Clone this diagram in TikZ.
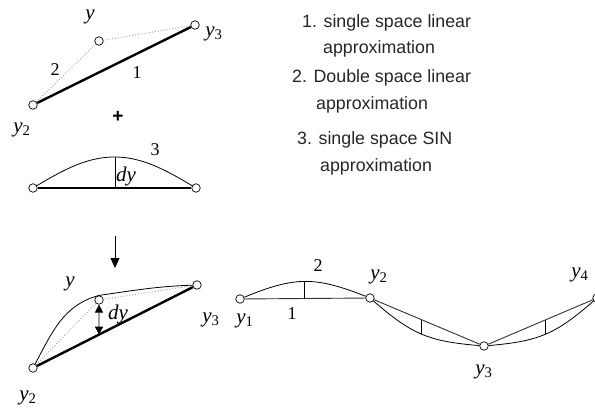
\documentclass[tikz,border=0pt]{standalone}
\usepackage{fontspec}
\setmainfont{Liberation Serif}
\newfontfamily\labelsans{Liberation Sans}
\usetikzlibrary{arrows.meta,calc}
\newcommand\yy[1]{\textit{y}\textsubscript{#1}}
\tikzset{mytip/.tip={Stealth[length=10pt,width=9pt,inset=0pt]},
         smalltip/.tip={Stealth[length=8pt,width=8pt,inset=0pt]}}
\begin{document}
\begin{tikzpicture}[x=1pt,y=1pt,
  pt/.style={circle,draw,fill=white,minimum size=8.5pt,inner sep=0pt,line width=0.7pt},
  heavy/.style={line width=2.4pt},
  thinline/.style={line width=0.8pt},
  chord/.style={line width=0.9pt,black!80},
  dots/.style={black!40,dotted,line width=0.9pt},
  lbl/.style={font=\fontsize{21}{21}\selectfont,inner sep=0pt},
  num/.style={font=\fontsize{18}{18}\selectfont,inner sep=0pt},
  txt/.style={font=\labelsans\fontsize{17.8}{17.8}\selectfont,anchor=base west,inner sep=0pt,text=black!85}]
\useasboundingbox (0,-409) rectangle (595,0);

% ---- top figure
\node[pt] (a2) at (33,-105) {};
\node[pt] (a) at (99,-41) {};
\node[pt] (a3) at (195,-25) {};
\draw[dots] (a2) -- (a) -- (a3);
\draw[heavy] (a2) -- (a3);
\node[lbl] (la) at (90,-17) {\textit{y}};
\node[lbl] (la3) at (214,-34) {\yy{3}};
\node[lbl] (la2) at (22,-130) {\yy{2}};
\node[num] (l2a) at (55,-70) {2};
\node[num] (l1a) at (137,-73) {1};
\node[font=\labelsans\bfseries\fontsize{19}{19}\selectfont,inner sep=0pt] (plus) at (118,-117) {+};

% ---- second figure
\node[pt] (b1) at (33,-188) {};
\node[pt] (b2) at (196,-188) {};
\draw[heavy] (b1) -- (b2);
\draw[thinline] plot[domain=3:177,samples=60] ({33+0.9056*\x},{-188+31*sin(\x)});
\coordinate (bp) at (115,-157);
\draw[thinline] (bp) -- (bp |- b1);
\node[num] (l3b) at (155,-150) {3};
\node[lbl] (ldyb) at (126,-176) {\textit{dy}};

% ---- arrow
\coordinate (ar1) at (115,-236);
\coordinate (ar2) at (115,-268);
\draw[thinline,-{mytip}] (ar1) -- (ar2);

% ---- bottom-left figure
\node[pt] (c2) at (33,-368) {};
\node[pt] (c) at (99,-300) {};
\node[pt] (c3) at (197,-285) {};
\draw[dots] (c2) -- (c) -- (c3);
\draw[heavy] (c2) -- (c3);
\draw[thinline] (c2) to[out=62,in=195] (c.north) to[out=8,in=182] (c3);
\coordinate (cq) at ([yshift=-40pt]c);
\coordinate (cb) at (intersection of c--cq and c2--c3);
\draw[thinline,{smalltip}-{smalltip}] (c.south) -- (cb);
\node[lbl] (lc) at (70,-284) {\textit{y}};
\node[lbl] (ldyc) at (118,-314) {\textit{dy}};
\node[lbl] (lc3) at (211,-320) {\yy{3}};
\node[lbl] (lc2) at (28,-398) {\yy{2}};

% ---- right figure
\node[pt] (d1) at (240,-299) {};
\node[pt] (d2) at (370,-298) {};
\node[pt] (d3) at (484,-346) {};
\node[pt] (d4) at (597,-298) {};
\draw[chord] (d1) -- (d2) -- (d3) -- (d4);
\draw[thinline] (d1) to[bend left=22,looseness=1.15] coordinate[pos=0.5] (e1) (d2);
\draw[thinline] (e1) -- (e1 |- d1);
\draw[thinline] (d2) to[bend right=18,looseness=1.14] coordinate[pos=0.5] (e2) (d3);
\coordinate (e2q) at ([yshift=30pt]e2);
\draw[thinline] (e2) -- (intersection of e2--e2q and d2--d3);
\draw[thinline] (d3) to[bend right=18,looseness=1.14] coordinate[pos=0.5] (e3) (d4);
\coordinate (e3q) at ([yshift=30pt]e3);
\draw[thinline] (e3) -- (intersection of e3--e3q and d3--d4);
\node[lbl] (ld1) at (245,-321) {\yy{1}};
\node[num] (l1d) at (292,-314) {1};
\node[num] (l2d) at (318,-266) {2};
\node[lbl] (ld2) at (379,-277) {\yy{2}};
\node[lbl] (ld3) at (484,-372) {\yy{3}};
\node[lbl] (ld4) at (580,-275) {\yy{4}};

% ---- legend
\node[txt] (t1) at (302,-28) {1. single space linear};
\node[txt] (t1b) at (323,-54) {approximation};
\node[txt] (t2) at (292,-83) {2. Double space linear};
\node[txt] (t2b) at (316,-110) {approximation};
\node[txt] (t3) at (297,-145) {3. single space SIN};
\node[txt] (t3b) at (320,-172) {approximation};
\end{tikzpicture}
\end{document}
